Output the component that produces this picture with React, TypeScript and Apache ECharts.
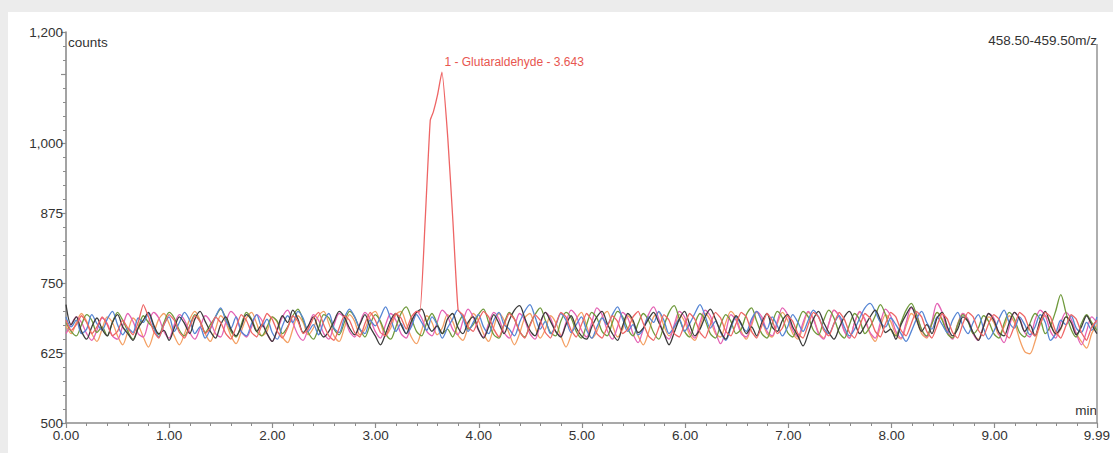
import React, { useEffect, useRef } from "react";
import * as echarts from "echarts";

// Sampling step of the traces (min)
const STEP = 9.99 / 200;

const blueValues = [
  690, 672, 684, 660, 668, 694, 678, 666, 686, 700, 676, 658, 670, 662, 688, 680, 696, 672, 654, 676,
  690, 664, 680, 698, 684, 660, 672, 652, 668, 690, 706, 684, 670, 690, 664, 656, 678, 694, 672, 686,
  662, 650, 674, 692, 680, 700, 688, 664, 676, 658, 682, 696, 670, 662, 688, 704, 690, 668, 660, 684,
  674, 690, 708, 686, 664, 678, 660, 672, 694, 680, 666, 690, 676, 652, 670, 686, 702, 688, 664, 680,
  694, 672, 660, 684, 698, 676, 668, 656, 680, 700, 712, 690, 668, 682, 660, 674, 696, 684, 662, 676,
  690, 666, 652, 672, 688, 676, 694, 708, 686, 664, 676, 658, 668, 690, 680, 700, 684, 660, 672, 686,
  664, 678, 696, 712, 692, 670, 682, 662, 648, 670, 690, 676, 664, 686, 700, 682, 668, 690, 674, 656,
  672, 694, 680, 664, 684, 702, 690, 670, 660, 678, 692, 672, 656, 668, 688, 706, 714, 700, 680, 672,
  688, 676, 660, 646, 664, 686, 700, 680, 668, 690, 676, 662, 684, 698, 674, 660, 680, 694, 670, 650,
  664, 686, 702, 680, 670, 690, 676, 658, 672, 694, 680, 648, 660, 684, 676, 692, 670, 662, 680, 666, 690,
];

const blackValues = [
  712, 676, 690, 664, 650, 672, 688, 668, 656, 680, 694, 672, 660, 648, 670, 684, 698, 676, 660, 666,
  648, 670, 690, 678, 660, 686, 700, 682, 664, 652, 676, 690, 668, 656, 672, 694, 684, 664, 676, 660,
  646, 668, 692, 680, 702, 686, 662, 674, 690, 668, 654, 664, 682, 700, 690, 670, 658, 676, 694, 672,
  656, 640, 660, 684, 696, 676, 660, 682, 698, 704, 680, 664, 674, 660, 686, 696, 672, 660, 680, 690,
  668, 652, 672, 694, 678, 660, 684, 702, 710, 688, 666, 656, 680, 698, 682, 664, 654, 676, 692, 670,
  656, 650, 672, 690, 700, 678, 660, 648, 674, 696, 684, 662, 670, 686, 698, 680, 660, 640, 662, 686,
  700, 676, 656, 668, 690, 704, 686, 664, 650, 674, 692, 678, 660, 672, 656, 680, 696, 672, 664, 684,
  694, 672, 656, 638, 660, 686, 700, 680, 662, 650, 670, 690, 700, 680, 660, 674, 690, 702, 684, 662,
  668, 650, 676, 694, 708, 686, 664, 676, 660, 688, 698, 672, 656, 668, 690, 682, 662, 648, 672, 696,
  684, 662, 656, 680, 698, 686, 664, 676, 656, 684, 700, 676, 660, 670, 690, 680, 658, 672, 692, 676, 660,
];

const greenValues = [
  680, 664, 656, 676, 694, 684, 662, 672, 656, 680, 698, 684, 664, 650, 670, 692, 680, 670, 658, 680,
  698, 688, 666, 656, 674, 694, 682, 662, 676, 690, 704, 688, 664, 654, 676, 698, 686, 664, 656, 672,
  690, 682, 660, 672, 692, 704, 684, 662, 650, 670, 694, 688, 668, 658, 680, 700, 690, 668, 654, 676,
  694, 682, 660, 650, 672, 696, 708, 688, 664, 656, 680, 696, 678, 660, 668, 654, 676, 692, 668, 676,
  694, 704, 680, 658, 652, 678, 698, 686, 664, 654, 676, 694, 706, 684, 662, 656, 682, 698, 688, 664,
  652, 676, 698, 688, 664, 656, 680, 700, 690, 668, 656, 678, 696, 684, 662, 650, 674, 698, 710, 686,
  664, 654, 678, 696, 684, 660, 652, 676, 694, 682, 660, 668, 694, 706, 682, 660, 652, 678, 700, 688,
  662, 654, 680, 700, 690, 666, 658, 684, 702, 688, 662, 652, 676, 696, 684, 660, 672, 692, 712, 694,
  668, 656, 680, 702, 714, 694, 668, 656, 678, 698, 684, 660, 652, 676, 694, 682, 660, 670, 692, 682,
  660, 652, 678, 698, 686, 662, 654, 678, 696, 686, 660, 674, 700, 730, 698, 668, 654, 678, 694, 680, 666,
];

const pinkValues = [
  660, 676, 690, 680, 660, 648, 666, 688, 678, 656, 650, 674, 696, 682, 660, 654, 680, 698, 688, 664,
  652, 676, 694, 684, 662, 650, 670, 692, 682, 660, 654, 680, 700, 690, 664, 654, 672, 694, 684, 660,
  646, 666, 690, 702, 680, 658, 648, 670, 694, 684, 660, 650, 676, 696, 688, 664, 654, 678, 698, 686,
  664, 652, 676, 696, 684, 660, 652, 678, 700, 688, 664, 656, 680, 702, 692, 668, 658, 682, 704, 690,
  666, 654, 678, 698, 686, 662, 652, 672, 696, 684, 660, 650, 676, 698, 688, 664, 656, 680, 702, 692,
  666, 654, 680, 706, 694, 666, 650, 672, 698, 688, 660, 644, 668, 694, 708, 686, 660, 650, 676, 700,
  690, 664, 652, 680, 702, 692, 664, 642, 664, 694, 684, 660, 654, 680, 700, 690, 664, 656, 682, 706,
  694, 666, 654, 680, 700, 686, 660, 650, 678, 702, 692, 664, 652, 680, 700, 686, 662, 652, 680, 704,
  692, 664, 652, 680, 706, 696, 666, 654, 682, 714, 698, 666, 650, 676, 696, 686, 660, 648, 674, 696,
  688, 660, 644, 672, 698, 688, 662, 654, 684, 702, 692, 664, 652, 680, 698, 686, 660, 640, 664, 690, 680,
];

const orangeValues = [
  674, 660, 680, 696, 682, 660, 646, 668, 690, 680, 656, 640, 664, 688, 676, 654, 636, 660, 686, 696,
  678, 656, 640, 660, 686, 700, 684, 660, 646, 668, 692, 680, 656, 642, 664, 688, 698, 678, 656, 664,
  690, 680, 654, 644, 668, 692, 680, 658, 670, 692, 700, 678, 656, 646, 670, 694, 682, 658, 668, 692,
  700, 680, 656, 670, 694, 700, 678, 654, 642, 666, 692, 680, 658, 670, 694, 682, 658, 648, 672, 696,
  684, 660, 646, 672, 696, 684, 660, 640, 660, 688, 696, 672, 652, 668, 692, 680, 656, 636, 658, 686,
  698, 674, 652, 664, 690, 700, 676, 654, 668, 692, 680, 656, 640, 662, 690, 698, 674, 656, 670, 694,
  682, 658, 648, 672, 696, 684, 660, 654, 680, 700, 688, 664, 650, 674, 698, 684, 660, 654, 678, 698,
  684, 660, 650, 674, 698, 688, 662, 652, 678, 702, 690, 666, 652, 680, 698, 684, 660, 646, 672, 694,
  682, 658, 650, 674, 696, 684, 660, 652, 678, 698, 686, 662, 652, 678, 696, 684, 660, 650, 672, 690,
  680, 658, 672, 692, 680, 650, 628, 624, 646, 676, 692, 680, 658, 668, 690, 680, 660, 646, 634, 660, 676,
];

// Red trace baseline (null where the peak replaces it)
const redBaseValues: (number | null)[] = [
  684, 666, 676, 692, 680, 660, 672, 690, 676, 656, 664, 684, 670, 658, 680, 712, 690, 664, 652, 676,
  694, 684, 662, 652, 672, 692, 682, 660, 670, 690, 680, 660, 650, 672, 694, 684, 662, 654, 676, 696,
  686, 664, 652, 670, 692, 682, 660, 668, 688, 698, 676, 656, 648, 670, 692, 684, 662, 654, 678, 698,
  684, 662, 656, 678, 696, 688, 668, 690, 700, null, null, null, null, null, null, null, null, 694, 672, 664,
  684, 700, 690, 668, 654, 676, 696, 686, 664, 652, 674, 694, 684, 662, 652, 676, 698, 690, 666, 654,
  676, 696, 684, 660, 652, 672, 692, 682, 660, 668, 690, 700, 678, 656, 648, 670, 694, 684, 660, 654,
  676, 696, 686, 662, 652, 676, 698, 688, 664, 656, 678, 698, 690, 664, 652, 674, 696, 684, 660, 670,
  692, 682, 660, 652, 676, 698, 690, 666, 656, 678, 698, 686, 662, 652, 674, 696, 688, 664, 654, 678,
  698, 690, 666, 656, 678, 700, 690, 664, 652, 674, 696, 686, 662, 652, 678, 698, 690, 666, 656, 678,
  694, 686, 662, 652, 674, 698, 690, 666, 656, 678, 698, 690, 664, 652, 674, 694, 686, 662, 648, 672, 684,
];

// Glutaraldehyde peak
const peakTimes = [3.43, 3.48, 3.53, 3.56, 3.6, 3.643, 3.7, 3.75, 3.8];
const peakValues = [699, 860, 1042, 1057, 1087, 1128, 1010, 860, 702];
const peakLabel = "1 - Glutaraldehyde - 3.643";

const yTicksHidden = [1125];

const toPoints = (vals: (number | null)[]) =>
  vals
    .map((v, i) => [+(i * STEP).toFixed(4), v] as [number, number | null])
    .filter((p) => p[1] !== null) as [number, number][];

export default function App() {
  const ref = useRef<HTMLDivElement>(null);

  useEffect(() => {
    if (!ref.current) return;
    const chart = echarts.init(ref.current, undefined, { renderer: "svg" });

    const redPoints: [number, number][] = toPoints(redBaseValues).filter(
      (p) => p[0] < peakTimes[0] || p[0] > peakTimes[peakTimes.length - 1]
    );
    peakTimes.forEach((t, i) => redPoints.push([t, peakValues[i]]));
    redPoints.sort((a, b) => a[0] - b[0]);
    const apexIdx = peakValues.indexOf(Math.max(...peakValues));

    const font = "Liberation Sans, Arial, sans-serif";
    const axisGrey = "#8c8c8c";
    const lineSeries = (name: string, color: string, data: any[], smooth = 0.3) => ({
      name,
      type: "line",
      data,
      smooth,
      symbol: "none",
      showSymbol: false,
      lineStyle: { color, width: 1.3 },
      z: 2,
    });

    chart.setOption({
      animation: false,
      backgroundColor: "#ffffff",
      grid: { left: 58, right: 16, top: 20, bottom: 30 },
      xAxis: {
        type: "value",
        min: 0,
        max: 9.99,
        interval: 1,
        axisLine: { show: true, lineStyle: { color: axisGrey, width: 1.6 } },
        axisTick: { show: true, length: 5, lineStyle: { color: axisGrey, width: 1.2 } },
        minorTick: { show: true, splitNumber: 5, length: 3, lineStyle: { color: axisGrey } },
        splitLine: { show: false },
        axisLabel: {
          color: "#333",
          fontSize: 13.5,
          fontFamily: font,
          margin: 5,
          formatter: (v: number) => v.toFixed(2),
        },
      },
      yAxis: {
        type: "value",
        min: 500,
        max: 1200,
        interval: 125,
        axisLine: { show: true, lineStyle: { color: axisGrey, width: 1.6 } },
        axisTick: { show: true, length: 5, lineStyle: { color: axisGrey, width: 1.2 } },
        minorTick: { show: true, splitNumber: 5, length: 3, lineStyle: { color: axisGrey } },
        splitLine: { show: false },
        axisLabel: {
          color: "#333",
          fontSize: 13.5,
          fontFamily: font,
          margin: 3,
          formatter: (v: number) =>
            yTicksHidden.includes(v) ? "" : v.toLocaleString("en-US"),
        },
      },
      graphic: [
        {
          type: "text",
          left: 60,
          top: 23,
          style: { text: "counts", fill: "#333", font: `13.5px ${font}` },
        },
        {
          type: "text",
          right: 16,
          top: 21,
          style: { text: "458.50-459.50m/z", fill: "#333", font: `13.5px ${font}` },
        },
        {
          type: "text",
          right: 16,
          top: 391,
          style: { text: "min", fill: "#333", font: `13.5px ${font}` },
        },
        {
          type: "line",
          shape: { x1: 1089, y1: 32, x2: 1089, y2: 411 },
          style: { stroke: "#9a9a9a", lineWidth: 1.6 },
        },
      ],
      series: [
        lineSeries("orange", "#f4a064", toPoints(orangeValues)),
        lineSeries("pink", "#e462b4", toPoints(pinkValues)),
        lineSeries("green", "#6f9a3c", toPoints(greenValues)),
        lineSeries("blue", "#5585d4", toPoints(blueValues)),
        lineSeries("black", "#3c3c3c", toPoints(blackValues)),
        {
          ...lineSeries("red", "#ee6565", redPoints, 0.15),
          z: 3,
          markPoint: {
            symbol: "circle",
            symbolSize: 1,
            itemStyle: { color: "rgba(0,0,0,0)" },
            label: {
              show: true,
              position: [3, -16],
              formatter: peakLabel,
              color: "#e8564f",
              fontSize: 12,
              fontFamily: font,
            },
            data: [{ coord: [peakTimes[apexIdx], peakValues[apexIdx]] }],
          },
        },
      ],
    });

    return () => chart.dispose();
  }, []);

  return (
    <div
      style={{
        position: "absolute",
        left: 0,
        top: 0,
        width: 1113,
        height: 453,
        background: "#ececec",
        overflow: "hidden",
      }}
    >
      <div
        ref={ref}
        style={{
          position: "absolute",
          left: 8,
          top: 12,
          width: 1105,
          height: 441,
          background: "#ffffff",
        }}
      />
    </div>
  );
}
